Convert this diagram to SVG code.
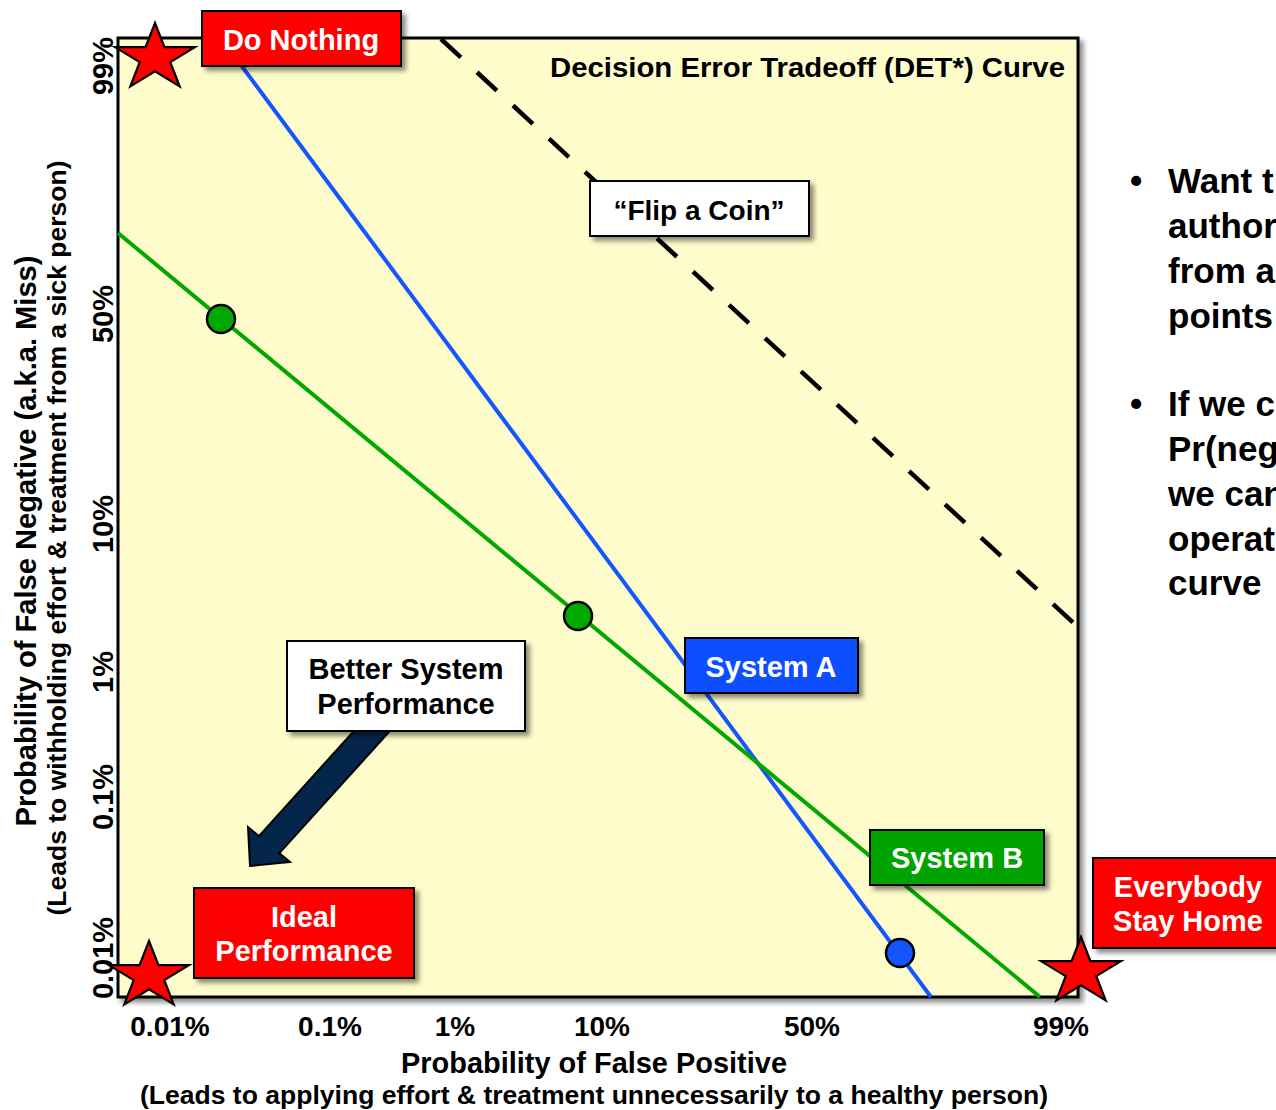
<svg xmlns="http://www.w3.org/2000/svg" xmlns:xlink="http://www.w3.org/1999/xlink" width="1276" height="1110" viewBox="0 0 1276 1110">
  <style>
    .t { font-family: "Liberation Sans", Arial, Helvetica, sans-serif; font-weight: bold; }
    .k { fill: #000; }
    .w { fill: #fff; }
    .mid { text-anchor: middle; }
    .box { stroke: #000; stroke-width: 2; }
    .red { fill: #ff0000; }
    .star { fill: #ff0000; stroke: #000; stroke-width: 2.2; stroke-linejoin: miter; }
    .dot { stroke: #000; stroke-width: 2.5; }
  </style>
  <defs>
    <filter id="shadow" x="-20%" y="-20%" width="150%" height="160%">
      <feDropShadow dx="4" dy="4" stdDeviation="2.5" flood-color="#000" flood-opacity="0.45"/>
    </filter>
    <polygon id="star" points="0,-35 9.46,-10.84 39.95,-10.82 15.29,4.14 24.68,28.32 0,13.4 -24.68,28.32 -15.29,4.14 -39.95,-10.82 -9.46,-10.84"/>
  </defs>

  <rect width="1276" height="1110" fill="#fff"/>

  <!-- plot area -->
  <g id="plot">
    <rect x="118" y="38" width="960" height="959" fill="#fffccb" stroke="#000" stroke-width="3" filter="url(#shadow)"/>
    <text class="t k" x="1065" y="77" font-size="28" text-anchor="end" textLength="515" lengthAdjust="spacingAndGlyphs">Decision Error Tradeoff (DET*) Curve</text>
  </g>

  <!-- axis tick labels -->
  <g id="x-ticks" class="t k mid" font-size="28">
    <text x="170" y="1036">0.01%</text>
    <text x="330" y="1036">0.1%</text>
    <text x="455" y="1036">1%</text>
    <text x="602" y="1036">10%</text>
    <text x="812" y="1036">50%</text>
    <text x="1061" y="1036">99%</text>
  </g>
  <g id="y-ticks" class="t k mid" font-size="29">
    <text transform="translate(113,66) rotate(-90)">99%</text>
    <text transform="translate(113,314) rotate(-90)">50%</text>
    <text transform="translate(113,524) rotate(-90)">10%</text>
    <text transform="translate(113,672) rotate(-90)">1%</text>
    <text transform="translate(113,797) rotate(-90)">0.1%</text>
    <text transform="translate(113,958) rotate(-90)">0.01%</text>
  </g>

  <!-- axis titles -->
  <g id="x-title" class="t k mid">
    <text x="594" y="1073" font-size="29" textLength="386" lengthAdjust="spacingAndGlyphs">Probability of False Positive</text>
    <text x="594" y="1104" font-size="26" textLength="908" lengthAdjust="spacingAndGlyphs">(Leads to applying effort &amp; treatment unnecessarily to a healthy person)</text>
  </g>
  <g id="y-title" class="t k mid">
    <text transform="translate(36,541) rotate(-90)" font-size="29" textLength="571" lengthAdjust="spacingAndGlyphs">Probability of False Negative (a.k.a. Miss)</text>
    <text transform="translate(66,538) rotate(-90)" font-size="26" textLength="755" lengthAdjust="spacingAndGlyphs">(Leads to withholding effort &amp; treatment from a sick person)</text>
  </g>

  <!-- curves -->
  <g id="connectors" fill="none">
    <line x1="441" y1="39" x2="1079" y2="628" stroke="#000" stroke-width="4.5" stroke-dasharray="27 22"/>
    <line x1="221" y1="38" x2="931" y2="997" stroke="#1356ff" stroke-width="4"/>
    <line x1="118" y1="233" x2="1040" y2="997" stroke="#00a800" stroke-width="4"/>
  </g>

  <!-- operating points -->
  <g id="points">
    <circle class="dot" cx="221" cy="319" r="14" fill="#00a800"/>
    <circle class="dot" cx="578" cy="616" r="14" fill="#00a800"/>
    <circle class="dot" cx="900" cy="953" r="14" fill="#1356ff"/>
  </g>

  <!-- improvement arrow -->
  <g id="better-arrow">
    <polygon points="359.3,725 395.3,725 279.4,853.2 290,862 250,866 248,827 258.9,836.1" fill="#04264a" stroke="#000" stroke-width="2" stroke-linejoin="miter"/>
  </g>

  <!-- labels -->
  <g id="do-nothing">
    <rect class="box red" x="202" y="11" width="199" height="55" filter="url(#shadow)"/>
    <text class="t w mid" x="301" y="50" font-size="29">Do Nothing</text>
  </g>
  <g id="flip-coin">
    <rect class="box" x="590" y="181" width="219" height="55" fill="#fff" stroke-width="1.5" filter="url(#shadow)"/>
    <text class="t k mid" x="699" y="220" font-size="28">&#x201C;Flip a Coin&#x201D;</text>
  </g>
  <g id="system-a">
    <rect class="box" x="685" y="638" width="173" height="55" fill="#0b50ff" stroke-width="1.5" filter="url(#shadow)"/>
    <text class="t w mid" x="771" y="677" font-size="29">System A</text>
  </g>
  <g id="system-b">
    <rect class="box" x="870" y="830" width="174" height="55" fill="#00a300" stroke-width="1.5" filter="url(#shadow)"/>
    <text class="t w mid" x="957" y="868" font-size="29">System B</text>
  </g>
  <g id="better-performance">
    <rect class="box" x="287" y="641" width="238" height="90" fill="#fff" stroke-width="1.5" filter="url(#shadow)"/>
    <text class="t k mid" x="406" y="679" font-size="29">Better System</text>
    <text class="t k mid" x="406" y="714" font-size="29">Performance</text>
  </g>
  <g id="ideal-performance">
    <rect class="box red" x="194" y="888" width="220" height="90" filter="url(#shadow)"/>
    <text class="t w mid" x="304" y="927" font-size="29">Ideal</text>
    <text class="t w mid" x="304" y="961" font-size="29">Performance</text>
  </g>
  <g id="everybody-home">
    <rect class="box red" x="1093" y="858" width="200" height="90" filter="url(#shadow)"/>
    <text class="t w mid" x="1188" y="897" font-size="29">Everybody</text>
    <text class="t w mid" x="1188" y="931" font-size="29">Stay Home</text>
  </g>

  <!-- corner stars -->
  <g id="stars">
    <use xlink:href="#star" href="#star" class="star" transform="translate(155,58)"/>
    <use xlink:href="#star" href="#star" class="star" transform="translate(149,976)"/>
    <use xlink:href="#star" href="#star" class="star" transform="translate(1081,972)"/>
  </g>

  <!-- side notes -->
  <g id="notes" class="t k" font-size="35">
    <text x="1130" y="193">&#x2022;</text>
    <text x="1168" y="193">Want t</text>
    <text x="1168" y="238">author</text>
    <text x="1168" y="283">from a</text>
    <text x="1168" y="328">points</text>
    <text x="1130" y="416">&#x2022;</text>
    <text x="1168" y="416">If we c</text>
    <text x="1168" y="461">Pr(neg</text>
    <text x="1168" y="506">we can</text>
    <text x="1168" y="551">operat</text>
    <text x="1168" y="595">curve</text>
  </g>
</svg>
